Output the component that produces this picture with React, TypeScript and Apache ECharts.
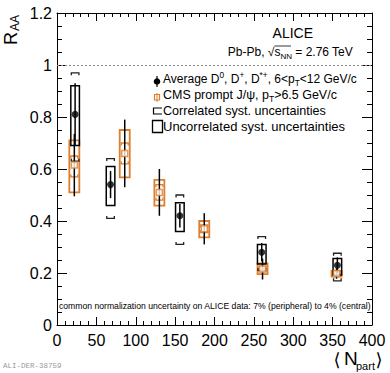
import { useEffect, useRef } from "react";
import * as echarts from "echarts";

// ALICE average D-meson RAA vs <Npart>
const aliceNpart = [23, 68, 156, 260, 356];
const aliceRaa = [0.81, 0.54, 0.42, 0.28, 0.23];
const aliceStat = [0.12, 0.052, 0.045, 0.035, 0.03];
const aliceUncorrLow = [0.69, 0.46, 0.36, 0.235, 0.192];
const aliceUncorrHigh = [0.92, 0.61, 0.47, 0.31, 0.256];
const aliceCorrLow = [0.63, 0.41, 0.31, 0.21, 0.17];
const aliceCorrHigh = [0.97, 0.64, 0.5, 0.34, 0.276];

// CMS prompt J/psi RAA vs <Npart>
const cmsNpart = [22, 86, 130, 187, 261, 355];
const cmsRaa = [0.615, 0.66, 0.51, 0.37, 0.215, 0.198];
const cmsStat = [0.12, 0.13, 0.09, 0.06, 0.04, 0.02];
const cmsSystLow = [0.51, 0.568, 0.459, 0.337, 0.196, 0.186];
const cmsSystHigh = [0.71, 0.75, 0.558, 0.4, 0.237, 0.208];
const cmsCorrLow = [0.57, 0.62, 0.48, 0.355, 0.205, 0.19];
const cmsCorrHigh = [0.65, 0.7, 0.54, 0.385, 0.225, 0.205];

const referenceLine = [1];

const ORANGE = "#dc7f2e";
const FONT = "Liberation Sans";

type Part = [string, number, number];

function measure(t: string, size: number, family: string) {
  const c = document.createElement("canvas").getContext("2d")!;
  c.font = `${size}px "${family}"`;
  return c.measureText(t).width;
}

function richLine(x: number, baseline: number, parts: Part[], align: "left" | "right", family = FONT, color = "#000") {
  const widths = parts.map((p) => measure(p[0], p[1], family));
  const total = widths.reduce((a, b) => a + b, 0);
  let cx = align === "left" ? x : x - total;
  const out: any[] = [];
  parts.forEach((p, i) => {
    out.push({
      type: "text",
      x: cx,
      y: baseline + p[2] - 0.35 * p[1],
      silent: true,
      style: { text: p[0], fontSize: p[1], fontFamily: family, fill: color, align: "left", verticalAlign: "middle" },
    });
    cx += widths[i];
  });
  return out;
}

// scale a line of text so that it spans from x to right (as a ROOT legend auto-fits its entries)
function fitLine(x: number, right: number, baseline: number, parts: Part[], maxSize: number) {
  const total = parts.map((p) => measure(p[0], p[1], FONT)).reduce((a, b) => a + b, 0);
  let k = (right - x) / total;
  const main = Math.max(...parts.map((p) => p[1]));
  if (main * k > maxSize) k = maxSize / main;
  return richLine(x, baseline, parts.map((p) => [p[0], p[1] * k, p[2] * k] as Part), "left");
}

function renderAlice(_params: any, api: any) {
  const n = api.value(0);
  const v = api.value(1);
  const x = api.coord([n, v])[0];
  const yv = (val: number) => api.coord([n, val])[1];
  const sHi = yv(v + api.value(2));
  const sLo = yv(v - api.value(2));
  const bLo = yv(api.value(3));
  const bHi = yv(api.value(4));
  const cLo = yv(api.value(5));
  const cHi = yv(api.value(6));
  const hw = 4.3;
  const cw = 3.8;
  const leg = 2.5;
  const br = { stroke: "#222", fill: "none", lineWidth: 1.3 };
  return {
    type: "group",
    children: [
      { type: "polyline", shape: { points: [[x - cw, cHi + leg], [x - cw, cHi], [x + cw, cHi], [x + cw, cHi + leg]] }, style: br },
      { type: "polyline", shape: { points: [[x - cw, cLo - leg], [x - cw, cLo], [x + cw, cLo], [x + cw, cLo - leg]] }, style: br },
      { type: "rect", shape: { x: x - hw, y: bHi, width: 2 * hw, height: bLo - bHi }, style: { stroke: "#000", fill: "none", lineWidth: 1.5 } },
      { type: "line", shape: { x1: x, y1: sHi, x2: x, y2: sLo }, style: { stroke: "#000", lineWidth: 1.5 } },
    ],
  };
}

function renderCms(_params: any, api: any) {
  const n = api.value(0);
  const v = api.value(1);
  const x = api.coord([n, v])[0];
  const yv = (val: number) => api.coord([n, val])[1];
  const sHi = yv(v + api.value(2));
  const sLo = yv(v - api.value(2));
  const bLo = yv(api.value(3));
  const bHi = yv(api.value(4));
  const cLo = yv(api.value(5));
  const cHi = yv(api.value(6));
  const hw = 5;
  const cw = 3.5;
  const leg = 2.5;
  const br = { stroke: ORANGE, fill: "none", lineWidth: 1.3 };
  return {
    type: "group",
    children: [
      { type: "rect", shape: { x: x - hw, y: bHi, width: 2 * hw, height: bLo - bHi }, style: { stroke: ORANGE, fill: "none", lineWidth: 1.8 } },
      { type: "polyline", shape: { points: [[x - cw, cHi + leg], [x - cw, cHi], [x + cw, cHi], [x + cw, cHi + leg]] }, style: br },
      { type: "polyline", shape: { points: [[x - cw, cLo - leg], [x - cw, cLo], [x + cw, cLo], [x + cw, cLo - leg]] }, style: br },
      { type: "line", shape: { x1: x, y1: sHi, x2: x, y2: sLo }, style: { stroke: "#000", lineWidth: 1.5 } },
    ],
  };
}

function buildGraphic() {
  const g: any[] = [];
  // y-axis title R_AA
  g.push({ type: "text", x: 11, y: 38.5, rotation: Math.PI / 2, silent: true, style: { text: "R", fontSize: 18, fontFamily: FONT, fill: "#000", align: "center", verticalAlign: "middle" } });
  g.push({ type: "text", x: 15, y: 23, rotation: Math.PI / 2, silent: true, style: { text: "AA", fontSize: 12, fontFamily: FONT, fill: "#000", align: "center", verticalAlign: "middle" } });
  // x-axis title <N_part>
  g.push({ type: "text", x: 337, y: 359, silent: true, style: { text: "\u27E8", fontSize: 18, fontFamily: "DejaVu Sans", fill: "#000", align: "center", verticalAlign: "middle" } });
  g.push(...richLine(344, 365, [["N", 19, 0]], "left"));
  g.push(...richLine(356, 369.5, [["part", 11, 0]], "left"));
  g.push({ type: "text", x: 379, y: 359, silent: true, style: { text: "\u27E9", fontSize: 18, fontFamily: "DejaVu Sans", fill: "#000", align: "center", verticalAlign: "middle" } });
  // ALICE label
  g.push(...richLine(313, 37.5, [["ALICE", 14, 0]], "right"));
  // Pb-Pb sqrt(s_NN)
  const pbParts: Part[] = [["Pb-Pb, ", 12, 0], ["\u221A", 12, 0], ["s", 12, 0], ["NN", 8, 2.5], [" = 2.76 TeV", 12, 0]];
  const pbEls = richLine(353, 56.5, pbParts, "right");
  g.push(...pbEls);
  const sx = pbEls[2].x;
  const ex = pbEls[4].x;
  g.push({ type: "line", silent: true, shape: { x1: sx, y1: 46, x2: ex - 1, y2: 46 }, style: { stroke: "#000", lineWidth: 0.8 } });
  // legend
  const LF = 11;
  const SF = 7.6;
  g.push({ type: "line", silent: true, shape: { x1: 157, y1: 76, x2: 157, y2: 87 }, style: { stroke: "#000", lineWidth: 1.2 } });
  g.push({ type: "circle", silent: true, shape: { cx: 157, cy: 81.5, r: 3.3 }, style: { fill: "#000" } });
  g.push(
    ...fitLine(163, 357, 83, [
      ["Average D", LF, 0], ["0", SF, -5], [", D", LF, 0], ["+", SF, -5], [", D", LF, 0], ["*+", SF, -5],
      [", 6<p", LF, 0], ["T", SF, 3], ["<12 GeV/c", LF, 0],
    ], 13)
  );
  g.push({ type: "line", silent: true, shape: { x1: 157, y1: 93, x2: 157, y2: 102 }, style: { stroke: ORANGE, lineWidth: 1 } });
  g.push({ type: "rect", silent: true, shape: { x: 154.5, y: 94.5, width: 5, height: 5.5 }, style: { stroke: ORANGE, fill: "none", lineWidth: 1.2 } });
  g.push(...fitLine(163, 337, 99, [["CMS prompt J/\u03C8, p", LF, 0], ["T", SF, 3], [">6.5 GeV/c", LF, 0]], 13));
  g.push({ type: "polyline", silent: true, shape: { points: [[162, 108], [153.5, 108], [153.5, 114], [162, 114]] }, style: { stroke: "#000", fill: "none", lineWidth: 1.2 } });
  g.push(...fitLine(163, 326, 115, [["Correlated syst. uncertainties", LF, 0]], 13));
  g.push({ type: "rect", silent: true, shape: { x: 152.5, y: 120.5, width: 10, height: 12 }, style: { stroke: "#000", fill: "none", lineWidth: 1.3 } });
  g.push(...fitLine(163, 362, 131.5, [["Uncorrelated syst. uncertainties", LF, 0]], 13));
  // normalization note
  g.push(...richLine(59, 309, [["common normalization uncertainty on ALICE data: 7% (peripheral) to 4% (central)", 8.65, 0]], "left"));
  // figure id
  g.push(...richLine(3, 369, [["ALI-DER-38759", 7.5, 0]], "left", "Liberation Mono", "#999"));
  return g;
}

export default function App() {
  const ref = useRef<HTMLDivElement>(null);
  useEffect(() => {
    const chart = echarts.init(ref.current!, null, { renderer: "svg" });
    const aliceRows = aliceNpart.map((n, i) => [n, aliceRaa[i], aliceStat[i], aliceUncorrLow[i], aliceUncorrHigh[i], aliceCorrLow[i], aliceCorrHigh[i]]);
    const cmsRows = cmsNpart.map((n, i) => [n, cmsRaa[i], cmsStat[i], cmsSystLow[i], cmsSystHigh[i], cmsCorrLow[i], cmsCorrHigh[i]]);
    const axisCommonX = {
      type: "value",
      min: 0,
      max: 400,
      interval: 50,
      axisLine: { show: true, onZero: false, lineStyle: { color: "#000", width: 1 } },
      axisTick: { show: true, inside: true, length: 8, lineStyle: { color: "#000", width: 1 } },
      minorTick: { show: true, splitNumber: 5, length: 4, lineStyle: { color: "#000", width: 1 } },
      splitLine: { show: false },
      minorSplitLine: { show: false },
    };
    const axisCommonY = {
      type: "value",
      min: 0,
      max: 1.2,
      interval: 0.2,
      axisLine: { show: true, onZero: false, lineStyle: { color: "#000", width: 1 } },
      axisTick: { show: true, inside: true, length: 10, lineStyle: { color: "#000", width: 1 } },
      minorTick: { show: true, splitNumber: 4, length: 5, lineStyle: { color: "#000", width: 1 } },
      splitLine: { show: false },
      minorSplitLine: { show: false },
    };
    chart.setOption({
      animation: false,
      backgroundColor: "#fff",
      grid: { left: 57, top: 13, right: 18, bottom: 48, containLabel: false },
      xAxis: [
        {
          ...axisCommonX,
          position: "bottom",
          axisLabel: { show: true, margin: 7, fontSize: 16, color: "#000", fontFamily: FONT, showMinLabel: true, showMaxLabel: true, interval: 0 },
        },
        { ...axisCommonX, position: "top", axisLabel: { show: false } },
      ],
      yAxis: [
        {
          ...axisCommonY,
          position: "left",
          axisLabel: {
            show: true,
            margin: 5,
            fontSize: 16,
            color: "#000",
            fontFamily: FONT,
            showMinLabel: true,
            showMaxLabel: true,
            formatter: (v: number) => String(Math.round(v * 10) / 10),
          },
        },
        { ...axisCommonY, position: "right", axisLabel: { show: false } },
      ],
      series: [
        {
          type: "custom",
          name: "CMS syst",
          xAxisIndex: 0,
          yAxisIndex: 0,
          z: 2,
          renderItem: renderCms,
          data: cmsRows,
          encode: { x: 0, y: 1 },
          markLine: {
            silent: true,
            symbol: "none",
            label: { show: false },
            lineStyle: { color: "#888", type: [2, 2], width: 1 },
            data: referenceLine.map((v) => ({ yAxis: v })),
          },
        },
        {
          type: "custom",
          name: "ALICE syst",
          xAxisIndex: 0,
          yAxisIndex: 0,
          z: 3,
          renderItem: renderAlice,
          data: aliceRows,
          encode: { x: 0, y: 1 },
        },
        {
          type: "scatter",
          name: "CMS prompt J/psi",
          z: 4,
          symbol: "rect",
          symbolSize: 6,
          itemStyle: { color: "#fff", borderColor: ORANGE, borderWidth: 1.5 },
          data: cmsNpart.map((n, i) => [n, cmsRaa[i]]),
        },
        {
          type: "scatter",
          name: "ALICE D",
          z: 5,
          symbol: "circle",
          symbolSize: 7,
          itemStyle: { color: "#000" },
          data: aliceNpart.map((n, i) => [n, aliceRaa[i]]),
        },
      ],
      graphic: buildGraphic(),
    });
    return () => chart.dispose();
  }, []);
  return <div ref={ref} style={{ position: "absolute", left: 0, top: 0, width: 390, height: 373, background: "#fff" }} />;
}
